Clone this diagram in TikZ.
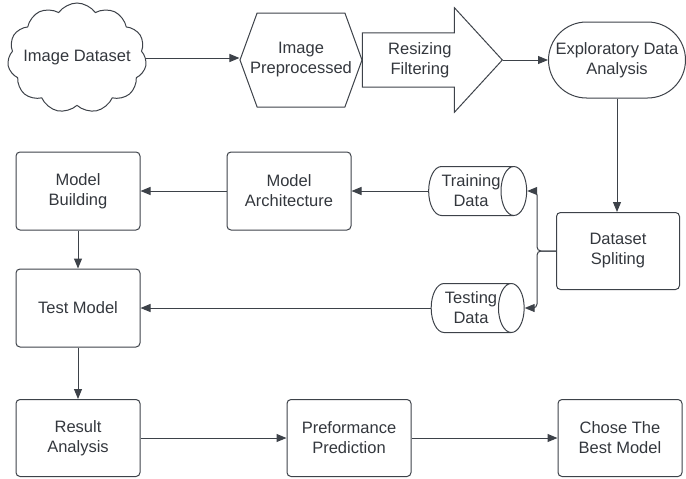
\documentclass[tikz,border=0pt]{standalone}
\usepackage{fontspec}
\setmainfont{Liberation Sans}
\usetikzlibrary{shapes.symbols,shapes.arrows,shapes.geometric,arrows.meta}
\definecolor{linegray}{HTML}{3D4249}
\definecolor{textgray}{HTML}{33373D}
\begin{document}
\begin{tikzpicture}[x=1pt, y=-1pt, font=\fontsize{16.5}{20}\selectfont, text=textgray,
	shapeline/.style={draw=linegray, line width=1pt, align=center},
	box/.style={shapeline, rounded corners=4pt, minimum width=124pt, minimum height=78pt, inner sep=0pt},
	drum/.style={shapeline, cylinder, aspect=0.8, minimum width=49pt, minimum height=93pt, inner sep=0pt},
	flow/.style={draw=linegray, line width=1pt, -{Triangle[length=10pt,width=8pt]}}]

			\useasboundingbox (0,0) rectangle (686,479);

			\node[shapeline, cloud, cloud puffs=11, cloud puff arc=110, aspect=1.3, minimum width=139pt, minimum height=110pt, inner sep=0pt] (data) at (77,58) {\makebox[60pt]{Image Dataset}};
\node[shapeline, signal, signal to=east and west, signal pointer angle=140, minimum width=122pt, minimum height=94pt, inner sep=0pt] (prep) at (301,60) {Image\\\makebox[70pt]{Preprocessed}};
\node[shapeline, single arrow, single arrow head extend=25pt, single arrow tip angle=95, minimum height=140pt, inner ysep=9pt, inner xsep=14pt, anchor=tip] (resize) at (503,60) {Resizing\\Filtering};
\node[shapeline, rounded corners=38pt, minimum width=137pt, minimum height=76pt, inner sep=0pt] (eda) at (617,60) {Exploratory Data\\Analysis};

			\node[box, minimum width=123pt, minimum height=77pt] (split) at (618,251) {Dataset\\Spliting};
\node[drum] (train) at (471,191) {Training\\Data};
\node[drum] (testd) at (471,308) {Testing\\Data};
\node[box] (arch) at (289,191) {Model\\Architecture};
\node[box] (build) at (78,191) {Model\\Building};
\node[box] (test) at (78,308) {Test Model};
\node[box, minimum height=77pt] (result) at (78,438) {Result\\Analysis};
\node[box, minimum height=77pt] (perf) at (349,438) {Preformance\\Prediction};
\node[box, minimum height=77pt] (chose) at (620,438) {Chose The\\Best Model};

			\draw[flow] (data.east) -- (data.east -| prep.west);
\draw[flow] (resize.tip) -- (eda.west);
\draw[flow] (eda.south) -- (eda.south |- split.north);
\draw[flow, rounded corners=4pt] (split.west) -- ++(-19,0) |- (train.east);
\draw[flow, rounded corners=4pt] (split.west) -- ++(-19,0) |- (testd.east);
\draw[flow] (train.west) -- (arch.east);
\draw[flow] (arch.west) -- (build.east);
\draw[flow] (build.south) -- (test.north);
\draw[flow] (testd.west) -- (test.east);
\draw[flow] (test.south) -- (result.north);
\draw[flow] (result.east) -- (perf.west);
\draw[flow] (perf.east) -- (chose.west);

		\end{tikzpicture}
\end{document}
